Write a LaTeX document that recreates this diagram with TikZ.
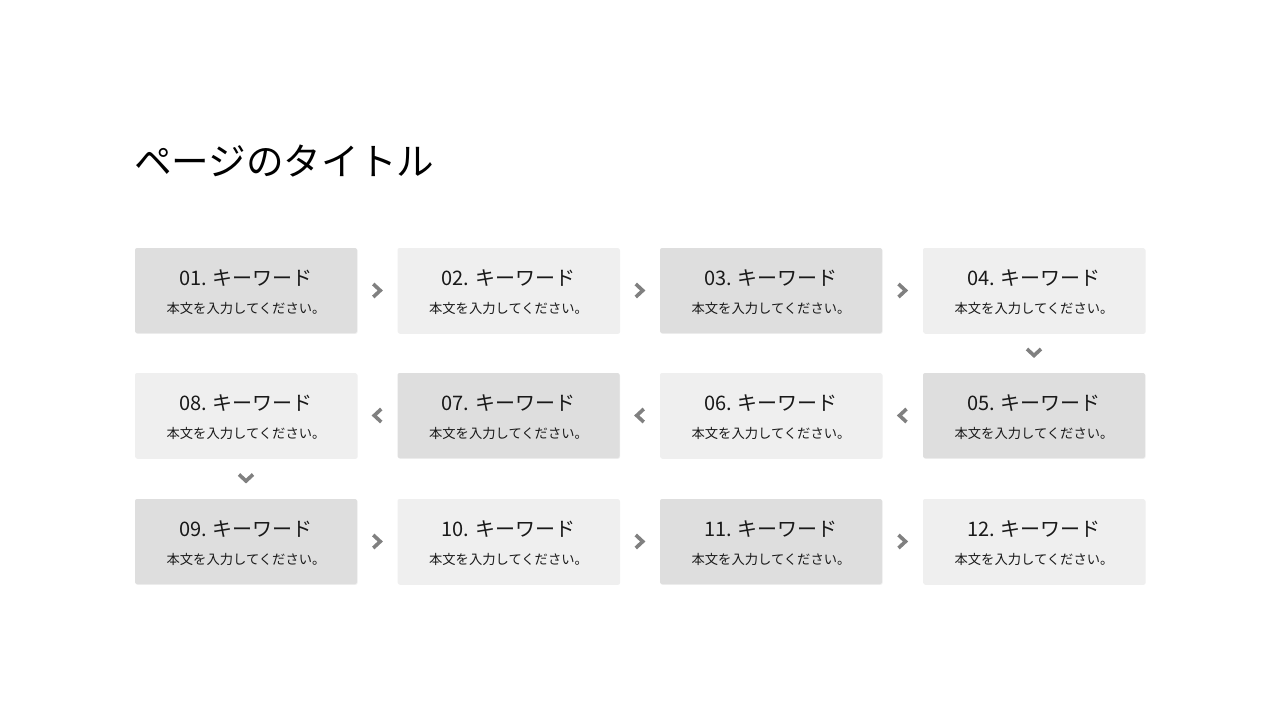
\documentclass[tikz,border=0pt]{standalone}
\usepackage{fontspec}
\setmainfont{Noto Sans CJK JP}
\usepackage{tikz}
\usetikzlibrary{positioning,shadows}

\definecolor{boxdark}{HTML}{DEDEDE}
\definecolor{boxlight}{HTML}{EFEFEF}
\definecolor{chevgray}{HTML}{808080}

\tikzset{
  box/.style={minimum width=222pt, minimum height=85pt, rounded corners=2pt,
    inner sep=0pt, drop shadow={opacity=0.12, shadow xshift=0.6pt, shadow yshift=-0.8pt}},
  darkbox/.style={box, fill=boxdark},
  lightbox/.style={box, fill=boxlight},
  keyword/.style={font=\fontsize{20}{24}\selectfont, text=black!90, inner sep=0pt},
  bodytext/.style={font=\fontsize{13.3}{16}\selectfont, text=black!90, inner sep=0pt},
  chev/.style={draw=chevgray, line width=3.6pt, line join=miter}
}

\begin{document}
\begin{tikzpicture}[x=1pt,y=-1pt]
            \useasboundingbox[fill=white] (0,0) rectangle (1280,720);

            \node[anchor=base west, font=\fontsize{37.6}{44}\selectfont, inner sep=0pt] (title) at (134,175) {ページのタイトル};

            % row 1
            \node[darkbox]  (b01) at (246,290.5)   {};
            \node[lightbox] (b02) at (508.5,290.5) {};
            \node[darkbox]  (b03) at (771,290.5)   {};
            \node[lightbox] (b04) at (1034,290.5)  {};
            % row 2
            \node[lightbox] (b08) at (246,415.5)   {};
            \node[darkbox]  (b07) at (508.5,415.5) {};
            \node[lightbox] (b06) at (771,415.5)   {};
            \node[darkbox]  (b05) at (1034,415.5)  {};
            % row 3
            \node[darkbox]  (b09) at (246,541.5)   {};
            \node[lightbox] (b10) at (508.5,541.5) {};
            \node[darkbox]  (b11) at (771,541.5)   {};
            \node[lightbox] (b12) at (1034,541.5)  {};

            \foreach \n in {01,02,03,04,05,06,07,08,09,10,11,12} {
                \node[keyword]  (k\n) at ([yshift=12.5pt]b\n.center) {\n. キーワード};
                \node[bodytext] (t\n) at ([yshift=-18pt]b\n.center) {本文を入力してください。};
            }

            % chevrons between boxes
            \foreach \a/\b in {01/02, 02/03, 03/04, 09/10, 10/11, 11/12} {
                \path (b\a.east) -- (b\b.west) coordinate[pos=0.5] (m\a);
                \draw[chev] ([shift={(-4,-6.5)}]m\a) -- ++(7,6.5) -- ++(-7,6.5);
            }
            \foreach \a/\b in {05/06, 06/07, 07/08} {
                \path (b\b.east) -- (b\a.west) coordinate[pos=0.5] (l\a);
                \draw[chev] ([shift={(4,-6.5)}]l\a) -- ++(-7,6.5) -- ++(7,6.5);
            }
            \foreach \a/\b in {04/05, 08/09} {
                \path (b\a.south) -- (b\b.north) coordinate[pos=0.5] (d\a);
                \draw[chev] ([shift={(-7,-4)}]d\a) -- ++(7,6.5) -- ++(7,-6.5);
            }
        \end{tikzpicture}
\end{document}
